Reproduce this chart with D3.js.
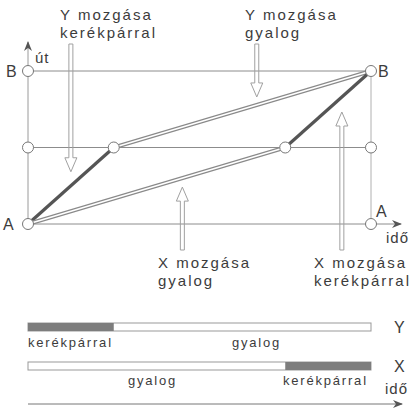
<!DOCTYPE html>
<html>
<head>
<meta charset="utf-8">
<script src="https://cdn.jsdelivr.net/npm/d3@7"></script>
<style>
  body { margin: 0; background: #fff; }
  text { font-family: "Liberation Sans", Arial, sans-serif; fill: #3c3c3c; }
</style>
</head>
<body>
<div id="chart"></div>
<script>
// distance levels on the "út" axis (0 = A, 1 = B)
const distLevels = [0, 0.5, 1];
const distLabels = ["A", "", "B"];

// Y: bicycle first, then walks
const yTimes = [0, 0.25, 1];
const yDist = [0, 0.5, 1];
const yModes = ["bike", "walk"];

// X: walks first, then bicycle
const xTimes = [0, 0.75, 1];
const xDist = [0, 0.5, 1];
const xModes = ["walk", "bike"];

// callouts: text lines, time where the arrow sits, which way it points
const noteLines = [
  ["Y mozgása", "kerékpárral"],
  ["Y mozgása", "gyalog"],
  ["X mozgása", "gyalog"],
  ["X mozgása", "kerékpárral"]
];
const noteTimes = [0.125, 0.667, 0.45, 0.915];
const noteDir = ["down", "down", "up", "up"];

// bottom timeline bars
const barNames = ["Y", "X"];
const barLabels = [["kerékpárral", "gyalog"], ["gyalog", "kerékpárral"]];

const width = 411, height = 408;

const svg = d3.select("#chart")
    .append("svg")
    .attr("width", width)
    .attr("height", height);

const x = d3.scaleLinear().domain([0, 1]).range([28, 371]);
const y = d3.scaleLinear().domain([0, 1]).range([224, 71]);

const grey = "#8c8c8c";

// arrow markers
const defs = svg.append("defs");
defs.append("marker")
    .attr("id", "tip")
    .attr("viewBox", "0 0 10 10")
    .attr("refX", 9).attr("refY", 5)
    .attr("markerWidth", 10).attr("markerHeight", 10)
    .attr("markerUnits", "userSpaceOnUse")
    .attr("orient", "auto")
    .append("path")
    .attr("d", "M0,1 L10,5 L0,9 L3,5 Z")
    .attr("fill", "#555");

// horizontal distance lines
svg.selectAll(".hline")
    .data(distLevels.slice(1))
    .enter()
    .append("line")
    .attr("x1", x(0)).attr("x2", x(1))
    .attr("y1", d => y(d)).attr("y2", d => y(d))
    .attr("stroke", grey).attr("stroke-width", 1);

// right vertical line
svg.append("line")
    .attr("x1", x(1)).attr("x2", x(1))
    .attr("y1", y(0)).attr("y2", y(1))
    .attr("stroke", "#b0b0b0").attr("stroke-width", 1);

// axes
svg.append("line")
    .attr("x1", x(0)).attr("x2", x(0))
    .attr("y1", y(0)).attr("y2", 42)
    .attr("stroke", "#9a9a9a").attr("stroke-width", 1)
    .attr("marker-end", "url(#tip)");
svg.append("line")
    .attr("x1", x(0)).attr("x2", 401)
    .attr("y1", y(0)).attr("y2", y(0))
    .attr("stroke", grey).attr("stroke-width", 1)
    .attr("marker-end", "url(#tip)");

// callout arrows (hollow)
function hollowArrow(cx, tipY, tailY) {
  const s = tipY > tailY ? 1 : -1;   // 1 = points down
  const hy = tipY - s * 14;
  return `M${cx - 2},${tailY} L${cx + 2},${tailY} L${cx + 2},${hy} L${cx + 6},${hy}` +
         ` L${cx},${tipY} L${cx - 6},${hy} L${cx - 2},${hy} Z`;
}

function distAt(times, dist, t) {
  return d3.scaleLinear().domain(times).range(dist)(t);
}

const noteData = noteLines.map((lines, i) => {
  const t = noteTimes[i];
  const who = i < 2 ? "Y" : "X";
  const d = who === "Y" ? distAt(yTimes, yDist, t) : distAt(xTimes, xDist, t);
  return { lines, t, d, dir: noteDir[i] };
});

const gaps = [14, 8, 9, 15];
svg.selectAll(".callout")
    .data(noteData)
    .enter()
    .append("path")
    .attr("d", (n, i) => {
      const cx = x(n.t);
      if (n.dir === "down") return hollowArrow(cx, y(n.d) - gaps[i], 44);
      return hollowArrow(cx, y(n.d) + gaps[i], 250);
    })
    .attr("fill", "none")
    .attr("stroke", "#a0a0a0")
    .attr("stroke-width", 1);

// callout text
const noteX = [60, 245, 158, 314];
const noteY = [[20, 38], [20, 38], [268, 286], [268, 286]];
noteData.forEach((n, i) => {
  n.lines.forEach((line, j) => {
    svg.append("text")
        .attr("x", noteX[i])
        .attr("y", noteY[i][j])
        .attr("font-size", 15)
        .attr("letter-spacing", 2)
        .text(line);
  });
});

// paths of X and Y
function drawPath(times, dist, modes) {
  modes.forEach((m, i) => {
    const seg = [[times[i], dist[i]], [times[i + 1], dist[i + 1]]];
    const line = d3.line().x(p => x(p[0])).y(p => y(p[1]));
    if (m === "bike") {
      svg.append("path").attr("d", line(seg))
          .attr("stroke", "#555").attr("stroke-width", 3.2).attr("fill", "none");
    } else {
      svg.append("path").attr("d", line(seg))
          .attr("stroke", "#8a8a8a").attr("stroke-width", 4).attr("fill", "none");
      svg.append("path").attr("d", line(seg))
          .attr("stroke", "#fff").attr("stroke-width", 1.8).attr("fill", "none");
    }
  });
}
drawPath(yTimes, yDist, yModes);
drawPath(xTimes, xDist, xModes);

// circles
const circlePts = [];
distLevels.forEach(d => { circlePts.push([0, d]); circlePts.push([1, d]); });
circlePts.push([yTimes[1], yDist[1]]);
circlePts.push([xTimes[1], xDist[1]]);
svg.selectAll(".pt")
    .data(circlePts)
    .enter()
    .append("circle")
    .attr("cx", d => x(d[0]))
    .attr("cy", d => y(d[1]))
    .attr("r", 5.5)
    .attr("fill", "#fff")
    .attr("stroke", "#777")
    .attr("stroke-width", 1);

// endpoint labels
svg.selectAll(".lblL")
    .data(distLevels.filter((d, i) => distLabels[i]))
    .enter()
    .append("text")
    .attr("x", d => d === 0 ? 3 : 6)
    .attr("y", d => y(d) + 5.5)
    .attr("font-size", 16)
    .text(d => distLabels[distLevels.indexOf(d)]);
svg.append("text").attr("x", 378).attr("y", y(1) + 5.5)
    .attr("font-size", 16).text(distLabels[2]);
svg.append("text").attr("x", 376).attr("y", y(0) - 7)
    .attr("font-size", 16).text(distLabels[0]);

svg.append("text").attr("x", 35).attr("y", 63)
    .attr("font-size", 15).attr("letter-spacing", 1).text("út");
svg.append("text").attr("x", 386).attr("y", 243)
    .attr("font-size", 15).attr("letter-spacing", 1).text("idő");

// bottom timeline
const barY = [323, 362];
const barSplit = [yTimes[1], xTimes[1]];
const barModes = [yModes, xModes];
barNames.forEach((name, i) => {
  const by = barY[i];
  svg.append("rect")
      .attr("x", x(0)).attr("y", by)
      .attr("width", x(1) - x(0)).attr("height", 8)
      .attr("fill", "#fff").attr("stroke", "#999").attr("stroke-width", 1);
  const bikeSeg = barModes[i][0] === "bike" ? [0, barSplit[i]] : [barSplit[i], 1];
  svg.append("rect")
      .attr("x", x(bikeSeg[0])).attr("y", by)
      .attr("width", x(bikeSeg[1]) - x(bikeSeg[0])).attr("height", 8)
      .attr("fill", "#7d7d7d");
  svg.append("text")
      .attr("x", 394).attr("y", by + 10)
      .attr("font-size", 16)
      .text(name);
});

// bottom labels
svg.append("text").attr("x", x(0)).attr("y", 347)
    .attr("font-size", 13).attr("letter-spacing", 1.8).text(barLabels[0][0]);
svg.append("text").attr("x", 232).attr("y", 347)
    .attr("font-size", 13).attr("letter-spacing", 1.8).text(barLabels[0][1]);
svg.append("text").attr("x", 128).attr("y", 385)
    .attr("font-size", 13).attr("letter-spacing", 1.8).text(barLabels[1][0]);
svg.append("text").attr("x", 283).attr("y", 385)
    .attr("font-size", 13).attr("letter-spacing", 1.8).text(barLabels[1][1]);

svg.append("text").attr("x", 385).attr("y", 394)
    .attr("font-size", 15).attr("letter-spacing", 1).text("idő");
svg.append("line")
    .attr("x1", x(0)).attr("x2", 402)
    .attr("y1", 404).attr("y2", 404)
    .attr("stroke", "#777").attr("stroke-width", 1)
    .attr("marker-end", "url(#tip)");
</script>
</body>
</html>
